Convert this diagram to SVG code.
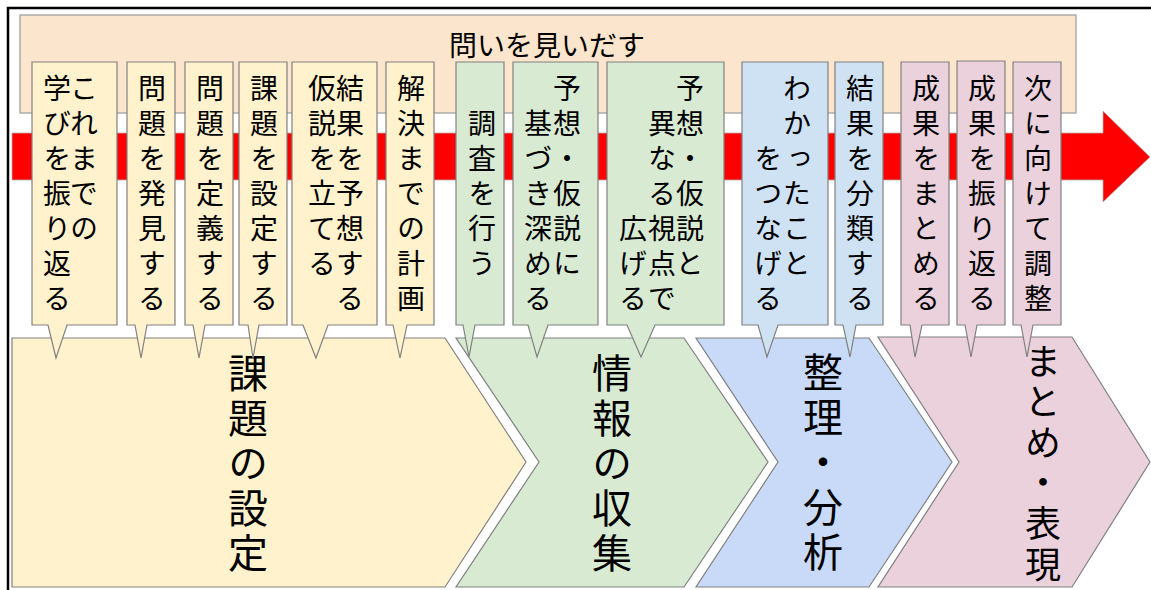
<svg xmlns="http://www.w3.org/2000/svg" width="1151" height="590" viewBox="0 0 1151 590">
<style>
.box{stroke:#808080;stroke-width:1.2}
.y{fill:#FFF2CC}.g{fill:#D9EAD3}.b{fill:#CFE2F3}.p{fill:#EAD1DC}
.cy{fill:#FFF2CC}.cg{fill:#D9EAD3}.cb{fill:#C9DAF8}.cp{fill:#EAD1DC}
.v{font-family:"Noto Sans CJK JP","Noto Sans CJK SC",sans-serif;font-size:28px;fill:#000;writing-mode:vertical-rl}
.big{font-family:"Noto Sans CJK JP","Noto Sans CJK SC",sans-serif;font-size:40px;fill:#000;writing-mode:vertical-rl}
.big2{font-family:"Noto Sans CJK JP","Noto Sans CJK SC",sans-serif;font-size:36px;fill:#000;writing-mode:vertical-rl}
.h{font-family:"Noto Sans CJK JP","Noto Sans CJK SC",sans-serif;font-size:28px;fill:#000}
</style>
<rect width="1151" height="590" fill="#fff"/>
<path d="M8,590 V8 H1151" fill="none" stroke="#000" stroke-width="2.5"/>

<g id="banner">
<rect x="20" y="15" width="1056" height="98" fill="#FCE5CD" stroke="#999" stroke-width="1.2"/>
<text class="h" x="547" y="44" text-anchor="middle" dominant-baseline="central">問いを見いだす</text>
</g>

<g id="connectors">
<path d="M12,133 H1103 V111 L1150,157 L1103,202 V180 H12 Z" fill="#FF0000" stroke="#b0b0b0" stroke-width="0.8"/>
</g>

<g id="phase-kadai">
<polygon class="cy box" points="12,338 445,338 526,462 445,587 12,587"/>
<text class="big" x="248" y="353 398 443 488 533">課題の設定</text>
</g>
<g id="phase-joho">
<polygon class="cg box" points="456,338 684,338 768,462 684,587 456,587 539,462"/>
<text class="big" x="612" y="353 398 443 488 533">情報の収集</text>
</g>
<g id="phase-seiri">
<polygon class="cb box" points="696,338 869,338 952,462 869,587 696,587 778,462"/>
<text class="big" x="823" y="352 397 442 487 532">整理・分析</text>
</g>
<g id="phase-matome">
<polygon class="cp box" points="878,337 1072,337 1150,462 1072,587 878,587 959,462"/>
<text class="big2" x="1043" y="343 383.6 424.2 464.8 505.4 546">まとめ・表現</text>
</g>

<g id="c-y1">
<path class="y box" d="M32,62 H117 V325 H67 L56,358 L48,325 H32 Z"/>
<text class="v" x="84" y="74 109 144 179 214">これまでの</text>
<text class="v" x="57" y="74 109 144 179 214 249 284">学びを振り返る</text>
</g>
<g id="c-y2">
<path class="y box" d="M127,62 H175 V325 H147 L141,358 L135,325 H127 Z"/>
<text class="v" x="152" y="74 109 144 179 214 249 284">問題を発見する</text>
</g>
<g id="c-y3">
<path class="y box" d="M185,62 H233 V325 H205 L199,358 L193,325 H185 Z"/>
<text class="v" x="210" y="74 109 144 179 214 249 284">問題を定義する</text>
</g>
<g id="c-y4">
<path class="y box" d="M239,62 H287 V325 H259 L253,358 L248,325 H239 Z"/>
<text class="v" x="264" y="74 109 144 179 214 249 284">課題を設定する</text>
</g>
<g id="c-y5">
<path class="y box" d="M292,62 H377 V325 H328 L316,358 L303,325 H292 Z"/>
<text class="v" x="350" y="74 109 144 179 214 249 284">結果を予想する</text>
<text class="v" x="322" y="74 109 144 179 214 249">仮説を立てる</text>
</g>
<g id="c-y6">
<path class="y box" d="M386,62 H434 V325 H407 L400,358 L393,325 H386 Z"/>
<text class="v" x="411" y="74 109 144 179 214 249 284">解決までの計画</text>
</g>

<g id="c-g1">
<path class="g box" d="M456,62 H504 V325 H475 L469,357 L463,325 H456 Z"/>
<text class="v" x="482" y="109 144 179 214 249">調査を行う</text>
</g>
<g id="c-g2">
<path class="g box" d="M513,62 H598 V325 H548 L537,357 L528,325 H513 Z"/>
<text class="v" x="567" y="74 109 144 179 214 249">予想・仮説に</text>
<text class="v" x="538" y="109 144 179 214 249 284">基づき深める</text>
</g>
<g id="c-g3">
<path class="g box" d="M607,62 H724 V325 H655 L641,357 L627,325 H607 Z"/>
<text class="v" x="690" y="74 109 144 179 214 249">予想・仮説と</text>
<text class="v" x="662" y="109 144 179 214 249 284">異なる視点で</text>
<text class="v" x="633" y="214 249 284">広げる</text>
</g>

<g id="c-b1">
<path class="b box" d="M742,62 H828 V325 H778 L767,357 L758,325 H742 Z"/>
<text class="v" x="797" y="74 109 144 179 214 249">わかったこと</text>
<text class="v" x="768" y="144 179 214 249 284">をつなげる</text>
</g>
<g id="c-b2">
<path class="b box" d="M835,62 H883 V325 H856 L850,357 L843,325 H835 Z"/>
<text class="v" x="860" y="74 109 144 179 214 249 284">結果を分類する</text>
</g>

<g id="c-p1">
<path class="p box" d="M901,62 H949 V325 H922 L915,357 L910,325 H901 Z"/>
<text class="v" x="926" y="74 109 144 179 214 249 284">成果をまとめる</text>
</g>
<g id="c-p2">
<path class="p box" d="M957,61 H1005 V325 H977 L971,357 L965,325 H957 Z"/>
<text class="v" x="982" y="74 109 144 179 214 249 284">成果を振り返る</text>
</g>
<g id="c-p3">
<path class="p box" d="M1013,62 H1061 V325 H1033 L1027,357 L1021,325 H1013 Z"/>
<text class="v" x="1038" y="74 109 144 179 214 249 284">次に向けて調整</text>
</g>
</svg>
